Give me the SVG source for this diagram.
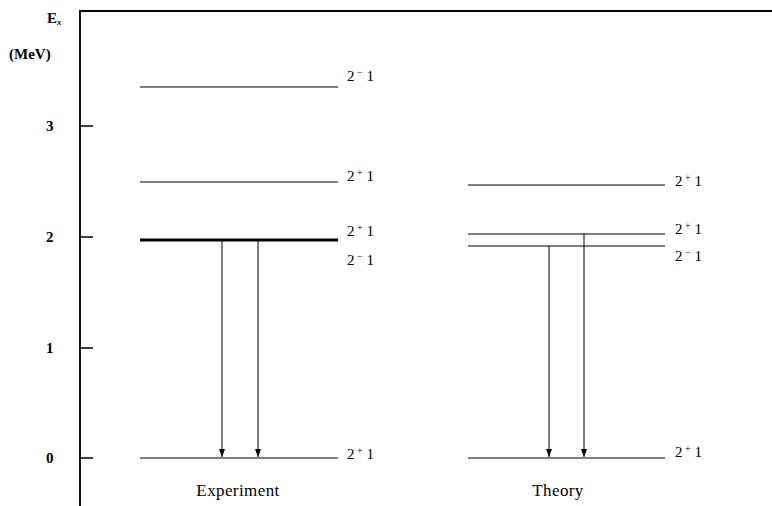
<svg xmlns="http://www.w3.org/2000/svg" width="772" height="506" viewBox="0 0 772 506">
<defs>
<marker id="ah" markerWidth="8" markerHeight="6" refX="8" refY="3" orient="auto" markerUnits="userSpaceOnUse">
<path d="M0,0 L8,3 L0,6 Z" fill="#000"/>
</marker>
<style>
text{font-family:"Liberation Serif","DejaVu Serif",serif;fill:#000;font-size:15px}
.lvl{stroke:#000;stroke-width:1.2;fill:none}
.thick{stroke:#000;stroke-width:3;fill:none}
.ax{stroke:#000;stroke-width:1.8;fill:none}
.tk{stroke:#000;stroke-width:1.3;fill:none}
.arr{stroke:#000;stroke-width:1;fill:none;marker-end:url(#ah)}
.sup{font-size:10px}
.cap{font-size:17px;letter-spacing:0.4px}
</style>
</defs>
<rect width="772" height="506" fill="#fff"/>
<g id="axis">
<path class="ax" d="M80,506 L80,11 L772,11"/>
<path class="tk" d="M80,126 H93 M80,237 H93 M80,348 H93 M80,458 H93"/>
<text x="47" y="23" font-weight="bold" font-size="14">E<tspan font-size="9" dy="2" font-style="italic">x</tspan></text>
<text x="9" y="59" font-weight="bold" font-size="15">(MeV)</text>
<text x="46" y="131" font-weight="bold" font-size="15">3</text>
<text x="46" y="242" font-weight="bold" font-size="15">2</text>
<text x="46" y="353" font-weight="bold" font-size="15">1</text>
<text x="46" y="463" font-weight="bold" font-size="15">0</text>
</g>
<g id="experiment">
<line class="lvl" x1="140" y1="87" x2="338" y2="87"/>
<line class="lvl" x1="140" y1="182" x2="338" y2="182"/>
<line class="thick" x1="140" y1="240" x2="338" y2="240"/>
<line class="lvl" x1="140" y1="458" x2="338" y2="458"/>
<text x="347" y="81">2<tspan class="sup" dy="-5"> −</tspan><tspan dy="5"> 1</tspan></text>
<text x="347" y="181">2<tspan class="sup" dy="-5"> +</tspan><tspan dy="5"> 1</tspan></text>
<text x="347" y="236">2<tspan class="sup" dy="-5"> +</tspan><tspan dy="5"> 1</tspan></text>
<text x="347" y="265">2<tspan class="sup" dy="-5"> −</tspan><tspan dy="5"> 1</tspan></text>
<text x="347" y="459">2<tspan class="sup" dy="-5"> +</tspan><tspan dy="5"> 1</tspan></text>
<text class="cap" x="238" y="496" text-anchor="middle">Experiment</text>
</g>
<g id="theory">
<line class="lvl" x1="468" y1="185" x2="665" y2="185"/>
<line class="lvl" x1="468" y1="234" x2="665" y2="234"/>
<line class="lvl" x1="468" y1="246" x2="665" y2="246"/>
<line class="lvl" x1="468" y1="458" x2="665" y2="458"/>
<text x="675" y="186">2<tspan class="sup" dy="-5"> +</tspan><tspan dy="5"> 1</tspan></text>
<text x="675" y="234">2<tspan class="sup" dy="-5"> +</tspan><tspan dy="5"> 1</tspan></text>
<text x="675" y="261">2<tspan class="sup" dy="-5"> −</tspan><tspan dy="5"> 1</tspan></text>
<text x="675" y="457">2<tspan class="sup" dy="-5"> +</tspan><tspan dy="5"> 1</tspan></text>
<text class="cap" x="558" y="496" text-anchor="middle">Theory</text>
</g>
<g id="connectors">
<line class="arr" x1="222" y1="240" x2="222" y2="457"/>
<line class="arr" x1="258" y1="240" x2="258" y2="457"/>
<line class="arr" x1="549" y1="246" x2="549" y2="457"/>
<line class="arr" x1="584" y1="234" x2="584" y2="457"/>
</g>
</svg>
